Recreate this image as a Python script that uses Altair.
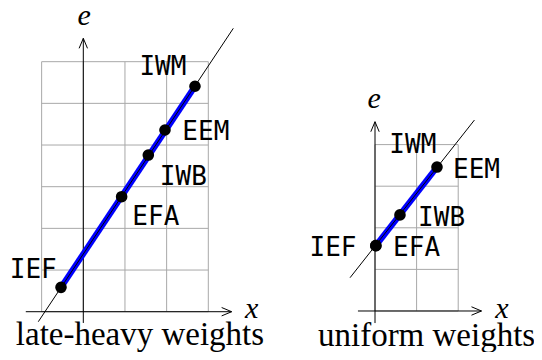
import altair as alt
import pandas as pd

# ---------------- data (left panel: late-heavy weights) ----------------
L_NAMES = ["IEF", "EFA", "IWB", "EEM", "IWM"]
L_X = [-0.535, 0.92, 1.56, 1.96, 2.68]
L_E = [0.585, 2.76, 3.76, 4.36, 5.41]
L_LABEL_X = [-1.20, 1.74, 2.40, 2.94, 1.91]
L_LABEL_E = [0.81, 2.07, 3.05, 4.12, 5.69]
L_FIT_X = [-1.08, 3.60]
L_FIT_E = [-0.24, 6.80]
L_GRID_X = [-1, 0, 1, 2, 3]
L_GRID_E = [0, 1, 2, 3, 4, 5, 6]
L_AXIS_X = [-1.38, 3.56]
L_AXIS_E = [-0.27, 6.56]
L_TITLE = "late-heavy weights"

# ---------------- data (right panel: uniform weights) ----------------
R_NAMES = ["IEF", "EFA", "IWB", "EEM"]
R_X = [0.02, 0.02, 0.60, 1.49]
R_E = [1.57, 1.57, 2.31, 3.46]
R_LABELS = ["IEF", "EFA", "IWB", "EEM", "IWM"]
R_LABEL_X = [-1.01, 1.00, 1.60, 2.44, 0.91]
R_LABEL_E = [1.32, 1.32, 2.04, 3.20, 3.81]
R_FIT_X = [-0.60, 2.39]
R_FIT_E = [0.80, 4.59]
R_GRID_X = [0, 1, 2]
R_GRID_E = [0, 1, 2, 3, 4]
R_AXIS_X = [-0.41, 2.56]
R_AXIS_E = [-0.29, 4.55]
R_TITLE = "uniform weights"

CHART_W, CHART_H = 526, 344


def panel(names, px, pe, label_names, lx, le, fit_x, fit_e, grid_x, grid_e,
          axis_x, axis_e, title, xdom, edom, xlab_pos, elab_pos, title_pos):
    xs = alt.Scale(domain=xdom, nice=False, zero=False)
    ys = alt.Scale(domain=edom, nice=False, zero=False)
    X = lambda f: alt.X(f, type="quantitative", scale=xs, axis=None)
    Y = lambda f: alt.Y(f, type="quantitative", scale=ys, axis=None)

    vgrid = pd.DataFrame({"x": grid_x, "e0": grid_e[0], "e1": grid_e[-1]})
    hgrid = pd.DataFrame({"e": grid_e, "x0": grid_x[0], "x1": grid_x[-1]})
    grid_color = "#a8a8a8"
    g1 = alt.Chart(vgrid).mark_rule(color=grid_color, strokeWidth=1).encode(
        x=X("x"), y=Y("e0"), y2="e1")
    g2 = alt.Chart(hgrid).mark_rule(color=grid_color, strokeWidth=1).encode(
        y=Y("e"), x=X("x0"), x2="x1")

    xaxis = alt.Chart(pd.DataFrame({"x0": [axis_x[0]], "x1": [axis_x[1]], "e": [0]})).mark_rule(
        color="black", strokeWidth=1).encode(x=X("x0"), x2="x1", y=Y("e"))
    yaxis = alt.Chart(pd.DataFrame({"e0": [axis_e[0]], "e1": [axis_e[1]], "x": [0]})).mark_rule(
        color="black", strokeWidth=1).encode(y=Y("e0"), y2="e1", x=X("x"))
    xarrow = alt.Chart(pd.DataFrame({"x": [axis_x[1]], "e": [0]})).mark_point(
        shape="M-1,-0.42L0,0L-1,0.42", filled=False, stroke="black", strokeWidth=1,
        size=400, opacity=1).encode(x=X("x"), y=Y("e"))
    yarrow = alt.Chart(pd.DataFrame({"x": [0], "e": [axis_e[1]]})).mark_point(
        shape="M-0.42,1L0,0L0.42,1", filled=False, stroke="black", strokeWidth=1,
        size=400, opacity=1).encode(x=X("x"), y=Y("e"))

    pts = pd.DataFrame({"name": names, "x": px, "e": pe})
    seg = pts.iloc[[0, len(pts) - 1]].reset_index(drop=True)
    seg["o"] = [0, 1]
    blue = alt.Chart(seg).mark_line(color="#0000ff", strokeWidth=6).encode(
        x=X("x"), y=Y("e"), order="o:Q")
    fit = pd.DataFrame({"x": fit_x, "e": fit_e, "o": [0, 1]})
    thin = alt.Chart(fit).mark_line(color="black", strokeWidth=1).encode(
        x=X("x"), y=Y("e"), order="o:Q")
    dots = alt.Chart(pts).mark_circle(color="black", size=135, opacity=1).encode(
        x=X("x"), y=Y("e"))

    lab = pd.DataFrame({"name": label_names, "x": lx, "e": le})
    labels = alt.Chart(lab).mark_text(
        font="DejaVu Sans Mono", fontSize=26, align="center", baseline="alphabetic",
        color="black").encode(x=X("x"), y=Y("e"), text="name:N")

    axl = pd.DataFrame({"t": ["x", "e"], "x": [xlab_pos[0], elab_pos[0]],
                        "e": [xlab_pos[1], elab_pos[1]]})
    axlabels = alt.Chart(axl).mark_text(
        font="Liberation Serif", fontStyle="italic", fontSize=30, align="center",
        baseline="alphabetic", color="black").encode(x=X("x"), y=Y("e"), text="t:N")

    ttl = pd.DataFrame({"t": [title], "x": [title_pos[0]], "e": [title_pos[1]]})
    tmark = alt.Chart(ttl).mark_text(
        font="Liberation Serif", fontSize=33, align="center", baseline="alphabetic",
        color="black").encode(x=X("x"), y=Y("e"), text="t:N")

    return alt.layer(g1, g2, xaxis, yaxis, blue, thin, dots, labels, xarrow, yarrow,
                     axlabels, tmark)


left = panel(L_NAMES, L_X, L_E, L_NAMES, L_LABEL_X, L_LABEL_E, L_FIT_X, L_FIT_E,
             L_GRID_X, L_GRID_E, L_AXIS_X, L_AXIS_E, L_TITLE,
             [-1.807, 10.816], [-0.967, 7.288], (4.04, -0.15), (0.02, 6.88), (1.36, -0.81))
right = panel(R_NAMES, R_X, R_E, R_LABELS, R_LABEL_X, R_LABEL_E, R_FIT_X, R_FIT_E,
              R_GRID_X, R_GRID_E, R_AXIS_X, R_AXIS_E, R_TITLE,
              [-8.822, 3.822], [-0.986, 7.284], (3.05, -0.18), (-0.02, 4.88), (1.24, -0.83))

chart = alt.layer(left, right).resolve_scale(x="independent", y="independent").properties(
    width=CHART_W, height=CHART_H, padding=0, background="white",
    autosize=alt.AutoSizeParams(type="none")).configure_view(stroke=None)

chart.save("out.html", embed_options={"renderer": "svg", "actions": False})
